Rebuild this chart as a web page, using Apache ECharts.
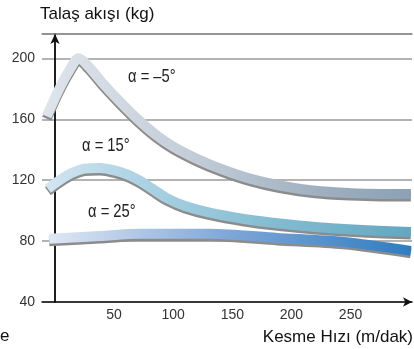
<!DOCTYPE html>
<html>
<head>
<meta charset="utf-8">
<script src="https://cdn.jsdelivr.net/npm/echarts@6/dist/echarts.min.js"></script>
<style>
html,body{margin:0;padding:0;background:#fff;}
#c{width:414px;height:349px;}
</style>
</head>
<body>
<div id="c"></div>
<script>
// Cutting speed (m/dak) and chip flow (kg) for each rake angle
var speedA = [-7, 3, 12, 20, 28, 40, 55, 70, 85, 100, 120, 140, 165, 190, 220, 250, 275, 301];
var flowA  = [162, 179, 192, 200, 195, 184, 171.5, 160, 150, 142, 134, 127.5, 121, 116.5, 113, 111.5, 111, 111];
var speedB = [-6, 5, 15, 25, 38, 51, 62, 72, 82, 95, 110, 130, 160, 190, 220, 260, 301];
var flowB  = [114.4, 120.5, 125, 127.6, 128, 126.3, 123.5, 119.5, 114.5, 108, 103, 98.8, 94.5, 91.5, 89.2, 87.3, 86];
var speedC = [-5, 38, 72, 131, 188, 244, 301];
var flowC  = [81.5, 83.4, 84.8, 84.8, 82.1, 79.5, 73.6];
var yTicks = [40, 80, 120, 160, 200];
var xLabels = [50, 100, 150, 200, 250];
var seriesNames = ['α = –5°', 'α = 15°', 'α = 25°'];

function pairs(xs, ys){ return xs.map(function(x,i){ return [x, ys[i]]; }); }

var chart = echarts.init(document.getElementById('c'), null, {renderer:'canvas'});
var G = echarts.graphic.LinearGradient;

function ribbon(name, data, stops){
  return {
    name: name, type: 'line', data: data, smooth: 0.3, showSymbol: false, symbol: 'none',
    lineStyle: {
      width: 10, cap: 'butt', join: 'round',
      color: new G(0, 0, 1, 0, stops),
      shadowColor: '#8c8c8c', shadowOffsetY: 2.5, shadowBlur: 0
    },
    silent: true, animation: false
  };
}

function label(text, left, top){
  return {type: 'text', left: left, top: top, scaleX: 0.82,
    style: {text: text, font: '18px "Liberation Sans"', fill: '#222'}};
}

chart.setOption({
  animation: false,
  grid: {left: 42, right: 2, top: 34, bottom: 47, containLabel: false},
  xAxis: [{
    type: 'value', min: -11, max: 302,
    axisLine: {show: true, lineStyle: {color: '#111', width: 1.5}, symbol: ['none', 'arrow'], symbolSize: [7, 9]},
    axisTick: {show: false},
    splitLine: {show: false},
    axisLabel: {customValues: xLabels, color: '#333', fontSize: 14, fontFamily: 'Liberation Sans', margin: 6}
  }, {
    type: 'value', min: -11, max: 302, position: 'top',
    axisLine: {show: true, lineStyle: {color: '#8a8a8a', width: 1.5}},
    axisTick: {show: false}, axisLabel: {show: false}, splitLine: {show: false}
  }],
  yAxis: [{
    type: 'value', min: 40, max: 216, interval: 40,
    axisLine: {show: true, lineStyle: {color: '#111', width: 1.5}, symbol: ['none', 'arrow'], symbolSize: [7, 10]},
    axisTick: {show: false},
    splitLine: {show: true, lineStyle: {color: '#9a9a9a', width: 1.5}},
    axisLabel: {showMaxLabel: false, color: '#333', fontSize: 14, fontFamily: 'Liberation Sans', margin: 7,
      formatter: function(v){ return yTicks.indexOf(v) >= 0 ? String(v) : ''; }}
  }, {
    type: 'value', min: 40, max: 216, position: 'right',
    axisLine: {show: true, lineStyle: {color: '#111', width: 1.5}},
    axisTick: {show: false}, axisLabel: {show: false}, splitLine: {show: false}
  }],
  series: [
    ribbon(seriesNames[2], pairs(speedC, flowC), [
      {offset: 0, color: '#e2e9f4'}, {offset: 0.5, color: '#7ea6d8'}, {offset: 1, color: '#2d7cc0'}]),
    ribbon(seriesNames[1], pairs(speedB, flowB), [
      {offset: 0, color: '#d3e6f0'}, {offset: 0.25, color: '#aed3e4'}, {offset: 0.6, color: '#85bdd2'}, {offset: 1, color: '#62a6c0'}]),
    ribbon(seriesNames[0], pairs(speedA, flowA), [
      {offset: 0, color: '#dfe5ec'}, {offset: 0.4, color: '#c3cdd8'}, {offset: 0.75, color: '#9eafc0'}, {offset: 1, color: '#8aa0b4'}])
  ],
  graphic: [
    {type: 'text', left: 40, top: 6, style: {text: 'Talaş akışı (kg)', font: '17px "Liberation Sans"', fill: '#111'}},
    {type: 'text', right: 1, top: 329, style: {text: 'Kesme Hızı (m/dak)', font: '17px "Liberation Sans"', fill: '#111'}},
    {type: 'text', left: 0, top: 328, style: {text: 'e', font: '17px "Liberation Sans"', fill: '#111'}},
    label(seriesNames[0], 128, 68),
    label(seriesNames[1], 82, 137),
    label(seriesNames[2], 88, 203)
  ]
});
</script>
</body>
</html>
